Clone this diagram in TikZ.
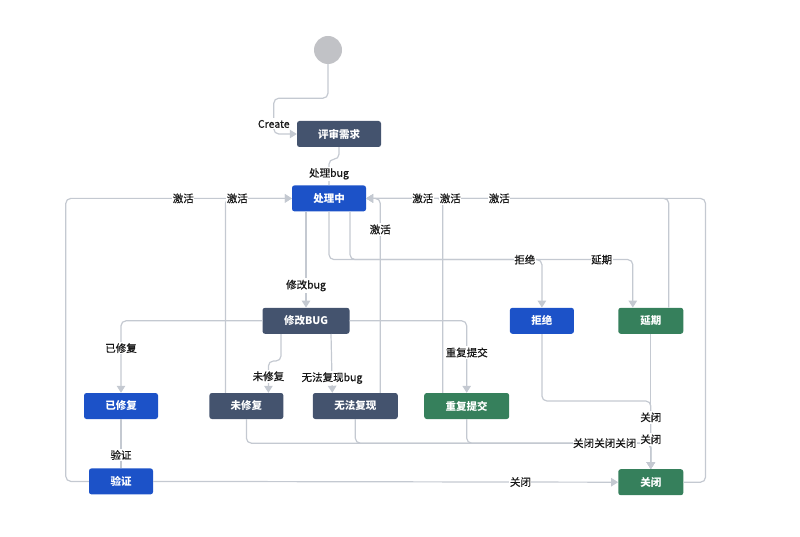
\documentclass[tikz,border=0pt]{standalone}
\usepackage{fontspec}
\setmainfont{Noto Sans CJK SC}
\newfontfamily\labelfont{Noto Sans CJK SC}[FakeBold=0.6]
\usepackage{tikz}
\usetikzlibrary{arrows.meta, positioning}
\definecolor{statusdark}{RGB}{68,83,110}
\definecolor{statusblue}{RGB}{28,82,200}
\definecolor{statusgreen}{RGB}{54,128,92}
\definecolor{flowgray}{RGB}{196,201,209}
\definecolor{startgray}{RGB}{193,194,198}

\begin{document}
\begin{tikzpicture}[
    x=1pt, y=-1pt,
    box/.style={rounded corners=2.5pt, minimum width=74pt, minimum height=26pt,
                inner sep=0pt, text=white, font=\fontsize{10.5}{12}\selectfont\bfseries},
    line/.style={draw=flowgray, line width=1.2pt, rounded corners=5pt},
    arr/.style={-{Triangle[length=7pt, width=8.5pt]}},
    lbl/.style={fill=white, inner xsep=0.5pt, inner ysep=1.5pt, text=black!90,
                font=\fontsize{10.5}{12}\labelfont}
  ]
    \useasboundingbox (0,0) rectangle (800,537);
    \node[circle, fill=startgray, minimum size=28pt, inner sep=0pt] (start) at (328,50) {};
    \node[box, fill=statusdark, minimum width=84pt] (review) at (339,134) {评审需求};
    \node[box, fill=statusblue, below=38pt of review, xshift=-10pt] (doing) {处理中};
    \node[box, fill=statusdark, minimum width=87pt, below=96pt of doing, xshift=-23pt] (fixbug) {修改BUG};
    \node[box, fill=statusblue, minimum width=64pt, right=160pt of fixbug] (reject) {拒绝};
    \node[box, fill=statusgreen, minimum width=65pt, right=44pt of reject] (delay) {延期};
    \node[box, fill=statusblue] (fixed) at (121,406) {已修复};
    \node[box, fill=statusdark, right=51pt of fixed] (unfixed) {未修复};
    \node[box, fill=statusdark, minimum width=85pt, right=29pt of unfixed] (norepro) {无法复现};
    \node[box, fill=statusgreen, minimum width=85pt, right=26pt of norepro] (dup) {重复提交};
    \node[box, fill=statusblue, minimum width=64pt, below=49pt of fixed] (verify) {验证};
    \node[box, fill=statusgreen, minimum width=65pt, below=135pt of delay] (closed) {关闭};

    % connectors first, their labels on top afterwards
    \draw[line, arr] (start.south) -- ++(0,-34pt) -| coordinate[pos=0.86] (lCreate)
      ([xshift=-23pt]review.west) -- (review.west);
    \draw[line] (review.south) -- ++(0,-12pt) -| coordinate[pos=0.78] (lHandle) (doing.north);
    \draw[line, arr] (verify.west) -- ++(-23pt,0) |- coordinate[pos=0.76] (lAct1) (doing.west);
    \draw[line, arr] ([xshift=-21pt]unfixed.north) |- coordinate[pos=0.59] (lAct2) (doing.west);
    \draw[line, arr] ([xshift=25pt]norepro.north) |- coordinate[pos=0.42] (lAct3) (doing.east);
    \draw[line, arr] ([xshift=-24pt]dup.north) |- coordinate[pos=0.63] (lAct4) (doing.east);
    \draw[line, arr] ([xshift=18pt]delay.north) |- coordinate[pos=0.78] (lAct5) (doing.east);
    \draw[line, arr] (closed.east) -- ++(22pt,0) |- coordinate[pos=0.876] (lAct6) (doing.east);
    \draw[line, arr] (fixbug.north |- doing.south) -- coordinate[pos=0.77] (lFix) (fixbug.north);
    \draw[line, arr] (doing.south) -- ++(0,-48pt) -| coordinate[pos=0.46] (lReject) (reject.north);
    \draw[line, arr] ([xshift=21pt]doing.south) -- ++(0,-48pt) -| coordinate[pos=0.445] (lDelay)
      ([xshift=-18pt]delay.north);
    \draw[line, arr] (fixbug.west) -| coordinate[pos=0.69] (lFixed) (fixed.north);
    \draw[line, arr] ([xshift=-25pt]fixbug.south) -- ++(0,-27pt) -| coordinate[pos=0.74] (lUnfixed)
      ([xshift=22pt]unfixed.north);
    \draw[line, arr] ([xshift=25pt]fixbug.south) -- coordinate[pos=0.75] (lNorepro)
      ([xshift=-23pt]norepro.north);
    \draw[line, arr] (fixbug.east) -| coordinate[pos=0.72] (lDup) (dup.north);
    \draw[line] (fixed.south) -- coordinate[pos=0.73] (lVerify) (verify.north);
    \draw[line, arr] (verify.east) -- coordinate[pos=0.79] (lClose1) (closed.west);
    \draw[line, arr] (unfixed.south) -- ++(0,-24pt) -| coordinate[pos=0.4169] (lClose2) (closed.north);
    \draw[line, arr] (norepro.south) -- ++(0,-24pt) -| coordinate[pos=0.4222] (lClose3) (closed.north);
    \draw[line, arr] (dup.south) -- ++(0,-24pt) -| coordinate[pos=0.4322] (lClose4) (closed.north);
    \draw[line, arr] (reject.south) -- ++(0,-67pt) -| coordinate[pos=0.62] (lClose5) (closed.north);
    \draw[line, arr] (delay.south) -- coordinate[pos=0.78] (lClose6) (closed.north);

    \node[lbl] at (lCreate) {Create};
    \node[lbl] at (lHandle) {处理bug};
    \foreach \n in {1,...,6} {\node[lbl] at (lAct\n) {激活};}
    \node[lbl] at (lFix) {修改bug};
    \node[lbl] at (lReject) {拒绝};
    \node[lbl] at (lDelay) {延期};
    \node[lbl] at (lFixed) {已修复};
    \node[lbl] at (lUnfixed) {未修复};
    \node[lbl] at (lNorepro) {无法复现bug};
    \node[lbl] at (lDup) {重复提交};
    \node[lbl] at (lVerify) {验证};
    \foreach \n in {1,...,6} {\node[lbl] at (lClose\n) {关闭};}
\end{tikzpicture}
\end{document}
